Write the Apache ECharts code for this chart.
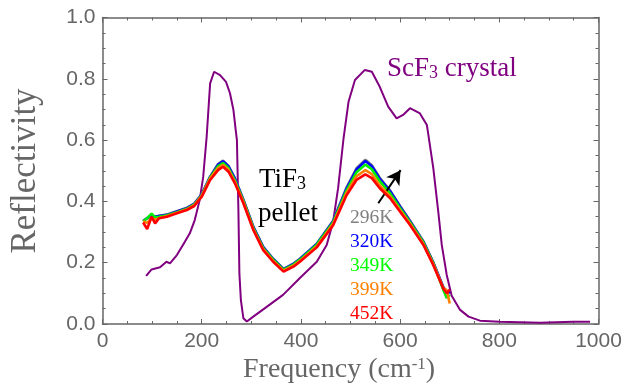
<!DOCTYPE html>
<html><head><meta charset="utf-8">
<script src="https://cdn.jsdelivr.net/npm/echarts@6/dist/echarts.min.js"></script>
<style>html,body{margin:0;padding:0;background:#fff}#c{width:635px;height:389px}</style>
</head><body><div id="c"></div>
<script>
// ScF3 crystal reflectivity: [frequency cm^-1, reflectivity]
const scf3Freq = [88,99,116,129,136,150,160,166,176,186,196,203,210,217,225,237,249,257,264,269,271,274,276,279,284,291,304,331,364,398,432,452,465,475,486,496,509,529,543,559,576,593,606,620,640,654,657,667,677,684,694,704,721,738,761,801,882,949,983];
const scf3Refl = [0.157,0.178,0.185,0.203,0.198,0.225,0.252,0.268,0.296,0.339,0.405,0.48,0.611,0.785,0.823,0.812,0.79,0.753,0.698,0.627,0.60,0.372,0.165,0.078,0.019,0.008,0.024,0.056,0.095,0.15,0.203,0.258,0.334,0.443,0.606,0.725,0.796,0.829,0.823,0.774,0.709,0.671,0.682,0.704,0.687,0.649,0.617,0.508,0.366,0.258,0.16,0.092,0.046,0.024,0.011,0.0075,0.004,0.0075,0.0075];

// TiF3 pellet at several temperatures
const tif3Freq = [82,90,99,106,114,130,150,170,185,200,217,233,243,254,267,284,304,324,344,365,385,398,432,465,492,512,530,543,559,580,600,620,647,667,687,694,700];
const t296 = [0.337,0.346,0.353,0.351,0.353,0.357,0.368,0.379,0.393,0.423,0.481,0.522,0.533,0.516,0.475,0.406,0.318,0.252,0.213,0.180,0.197,0.213,0.262,0.337,0.445,0.508,0.536,0.518,0.477,0.435,0.385,0.337,0.270,0.201,0.121,0.106,0.101];
const t320 = [0.336,0.345,0.352,0.350,0.352,0.356,0.367,0.378,0.392,0.422,0.480,0.520,0.531,0.514,0.474,0.405,0.317,0.251,0.212,0.179,0.196,0.212,0.261,0.335,0.442,0.504,0.532,0.515,0.474,0.433,0.383,0.335,0.268,0.200,0.120,0.105,0.100];
const t349 = [0.335,0.345,0.360,0.348,0.350,0.355,0.365,0.376,0.390,0.420,0.478,0.515,0.525,0.509,0.469,0.402,0.314,0.248,0.210,0.177,0.194,0.210,0.259,0.332,0.436,0.495,0.520,0.505,0.466,0.426,0.378,0.332,0.266,0.198,0.112,0.085,0.095];
const t399 = [0.335,0.330,0.345,0.340,0.345,0.352,0.363,0.374,0.388,0.418,0.475,0.509,0.519,0.503,0.464,0.398,0.310,0.244,0.206,0.174,0.190,0.206,0.254,0.327,0.428,0.482,0.502,0.489,0.452,0.416,0.371,0.327,0.261,0.195,0.118,0.110,0.067];
const t452 = [0.331,0.310,0.350,0.328,0.345,0.350,0.361,0.372,0.385,0.415,0.470,0.502,0.513,0.497,0.459,0.394,0.307,0.241,0.203,0.171,0.187,0.203,0.250,0.322,0.420,0.470,0.488,0.476,0.443,0.410,0.366,0.323,0.258,0.192,0.116,0.100,0.112];

const tempLabels = ['296K','320K','349K','399K','452K'];
const tempColors = ['#808080','#0000ff','#00ee00','#ff8000','#ff0000'];
const tempSeries = [t296,t320,t349,t399,t452];

const xTicks = [0,200,400,600,800,1000];
const yTicks = [0.0,0.2,0.4,0.6,0.8,1.0];
// arrow annotation (data coords)
const arrowFrom = [556,0.394];
const arrowTo = [601,0.502];

const zip = (xs, ys) => xs.map((x,i)=>[x, ys[i]]);
const axisGray = '#666666';
const serif = 'Liberation Serif';

const baseX = {
  type:'value', min:0, max:1000, interval:200,
  axisLine:{show:true,onZero:false,lineStyle:{color:axisGray,width:1.5}},
  axisTick:{show:true,inside:true,length:5,lineStyle:{color:axisGray,width:1}},
  minorTick:{show:true,splitNumber:4,length:3,lineStyle:{color:axisGray,width:1}},
  splitLine:{show:false},minorSplitLine:{show:false}
};
const baseY = {
  type:'value', min:0, max:1, interval:0.2,
  axisLine:{show:true,onZero:false,lineStyle:{color:axisGray,width:1.5}},
  axisTick:{show:true,inside:true,length:5,lineStyle:{color:axisGray,width:1}},
  minorTick:{show:true,splitNumber:4,length:3,lineStyle:{color:axisGray,width:1}},
  splitLine:{show:false},minorSplitLine:{show:false}
};

const series = [];
tempSeries.forEach((ys,i)=>{
  series.push({type:'line',name:tempLabels[i],data:zip(tif3Freq,ys),showSymbol:false,
    lineStyle:{color:tempColors[i],width:2.6},itemStyle:{color:tempColors[i]},z:2+i,silent:true,animation:false});
});
series.splice(0,0,{type:'line',name:'ScF3 crystal',data:zip(scf3Freq,scf3Refl),showSymbol:false,
  lineStyle:{color:'#800080',width:2},itemStyle:{color:'#800080'},z:1,silent:true,animation:false,
  markLine:{silent:true,symbol:['none','arrow'],symbolSize:[12,14],animation:false,
    label:{show:false},lineStyle:{color:'#000',width:2,type:'solid'},
    data:[[{coord:arrowFrom},{coord:arrowTo}]]}});

const legendTexts = tempLabels.map((t,i)=>({type:'text',left:350,top:208+i*24,
  style:{text:t,fill:tempColors[i]==='#00ee00'?'#00ff00':tempColors[i],font:'19.5px "'+serif+'"'}}));

const chart = echarts.init(document.getElementById('c'),null,{renderer:'canvas'});
chart.setOption({
  animation:false,
  backgroundColor:'#fff',
  grid:{left:102.5,right:36.5,top:17.5,bottom:65,containLabel:false},
  xAxis:[
    Object.assign({},baseX,{position:'bottom',axisLabel:{show:true,color:axisGray,fontSize:21,fontFamily:'Liberation Sans',margin:7,
      formatter:v=>String(v)}}),
    Object.assign({},baseX,{position:'top',axisLabel:{show:false}})
  ],
  yAxis:[
    Object.assign({},baseY,{position:'left',axisLabel:{show:true,color:axisGray,fontSize:21,fontFamily:'Liberation Sans',margin:7,
      formatter:v=>v.toFixed(1)}}),
    Object.assign({},baseY,{position:'right',axisLabel:{show:false}})
  ],
  series:series,
  graphic:[
    {type:'text',left:387,top:55,style:{text:'{a|ScF}{s|3}{a| crystal}',fill:'#800080',
      rich:{a:{fontSize:27,fontFamily:serif,fill:'#800080',verticalAlign:'bottom',lineHeight:30},
            s:{fontSize:18,fontFamily:serif,fill:'#800080',verticalAlign:'bottom',lineHeight:16}}}},
    {type:'text',left:259,top:166,style:{text:'{a|TiF}{s|3}',fill:'#000',
      rich:{a:{fontSize:27,fontFamily:serif,fill:'#000',verticalAlign:'bottom',lineHeight:30},
            s:{fontSize:18,fontFamily:serif,fill:'#000',verticalAlign:'bottom',lineHeight:16}}}},
    {type:'text',left:258,top:200,style:{text:'pellet',fill:'#000',font:'27px "'+serif+'"'}},
    ...legendTexts,
    {type:'text',left:243,top:356,style:{text:'{a|Frequency (cm}{s|-1}{a|)}',fill:axisGray,
      rich:{a:{fontSize:28,fontFamily:serif,fill:axisGray,verticalAlign:'top',lineHeight:30},
            s:{fontSize:17,fontFamily:serif,fill:axisGray,verticalAlign:'top',lineHeight:24}}}},
    {type:'text',x:26,y:171,rotation:Math.PI/2,style:{text:'Reflectivity',fill:axisGray,font:'35px "'+serif+'"',
      align:'center',verticalAlign:'middle'}}
  ]
});
</script></body></html>
